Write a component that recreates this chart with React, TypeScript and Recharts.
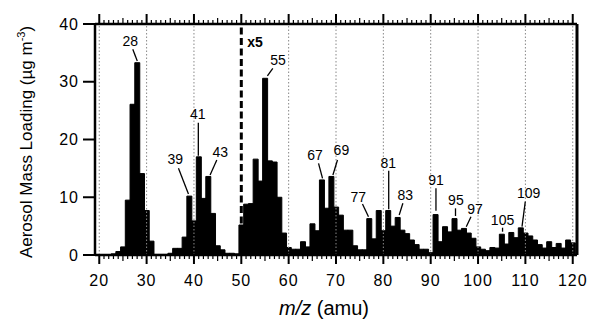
import React from 'react';
import { BarChart, Bar, XAxis, YAxis, ReferenceLine, LabelList } from 'recharts';

// m/z values (amu)
const massToCharge = [
  20, 21, 22, 23, 24, 25, 26, 27, 28, 29, 30, 31, 32, 33, 34, 35, 36, 37, 38, 39,
  40, 41, 42, 43, 44, 45, 46, 47, 48, 49, 50, 51, 52, 53, 54, 55, 56, 57, 58, 59,
  60, 61, 62, 63, 64, 65, 66, 67, 68, 69, 70, 71, 72, 73, 74, 75, 76, 77, 78, 79,
  80, 81, 82, 83, 84, 85, 86, 87, 88, 89, 90, 91, 92, 93, 94, 95, 96, 97, 98, 99,
  100, 101, 102, 103, 104, 105, 106, 107, 108, 109, 110, 111, 112, 113, 114, 115, 116, 117, 118, 119, 120,
];

// Aerosol mass loading (µg m-3); values above m/z 50 shown x5
const massLoading = [
  0.05, 0.05, 0.05, 0.2, 0.6, 1.4, 9.5, 26.1, 33.3, 14.1, 7.7, 2.4, 0.1, 0.1, 0.1, 0.3, 1.15, 1.15, 3.1, 10.2,
  5.9, 17.0, 9.8, 13.6, 7.2, 1.6, 0.9, 0.3, 0.3, 0.2, 5.2, 8.8, 8.9, 16.6, 12.8, 30.6, 16.3, 16.1, 10.0, 3.8,
  1.3, 1.0, 1.0, 2.3, 1.4, 5.4, 4.2, 13.0, 8.1, 13.6, 8.3, 6.9, 4.3, 4.3, 1.6, 0.9, 0.9, 6.3, 2.8, 7.7,
  4.2, 7.7, 5.0, 6.5, 4.3, 3.7, 2.6, 1.8, 1.0, 1.0, 0.4, 7.0, 2.3, 4.9, 4.0, 6.3, 4.3, 4.6, 3.8, 2.9,
  1.4, 1.0, 0.75, 1.3, 1.2, 3.6, 1.9, 3.9, 3.0, 4.7, 3.8, 3.3, 2.6, 1.8, 1.2, 2.3, 1.3, 2.0, 1.2, 2.6, 2.1,
];

const xTickLabels = [20, 30, 40, 50, 60, 70, 80, 90, 100, 110, 120];
const yTickLabels = [0, 10, 20, 30, 40];
const gridValues = [20, 30, 40, 60, 70, 80, 90, 100, 110, 120];
const scaleBreak = 50;
const labeledPeaks = [28, 39, 41, 43, 55, 67, 69, 77, 81, 83, 91, 95, 97, 105, 109];

const data = massToCharge.map((mz, i) => ({ mz, loading: massLoading[i] }));

const FONT = "'Liberation Sans', Arial, Helvetica, sans-serif";

const yDomain: [number, number] = [0, 40];
const xDomain: [number, number] = [19.1, 120.9];
const PLOT_H = 231; // px height of plot area
const pxToUnits = (px: number) => (px * (yDomain[1] - yDomain[0])) / PLOT_H;

// minor tick marks (every amu, longer every 5), majors drawn by the axes
const minorTicks = massToCharge.filter((v) => v % 10 !== 0);
const minorLen = (v: number) => pxToUnits(v % 5 === 0 ? 6 : 4);

// leader line / text offsets relative to the bar top centre (styling)
const peakOffsets: Record<number, { tx: number; ty: number; l: [number, number, number, number] }> = {
  28: { tx: -7, ty: -22, l: [-4.5, -13.4, 0, -1.7] },
  39: { tx: -14, ty: -37, l: [-10.9, -27.8, -0.9, -2.1] },
  41: { tx: -1, ty: -43, l: [-0.5, -34, -0.5, -1] },
  43: { tx: 12, ty: -24, l: [8.5, -16.5, 1.8, -1.5] },
  55: { tx: 13, ty: -18, l: [7.7, -10, 2.3, -2.3] },
  67: { tx: -7, ty: -25, l: [-3.4, -16.6, 0.6, -1.6] },
  69: { tx: 10, ty: -26, l: [6.1, -16.5, 1.5, -1.5] },
  77: { tx: -11, ty: -22, l: [-6.8, -14.6, -0.8, -1.9] },
  81: { tx: 0, ty: -48, l: [0.5, -39.8, 0.5, -1.2] },
  83: { tx: 7.5, ty: -22.5, l: [5.2, -14.2, 1.5, -2.5] },
  91: { tx: 0.4, ty: -34.6, l: [0.4, -26.3, 0.4, -3.9] },
  95: { tx: 1.4, ty: -18.6, l: [1, -10.3, 1, -2.6] },
  97: { tx: 11, ty: -19.4, l: [7, -11.7, 2.3, -1.7] },
  105: { tx: 0.7, ty: -14.2, l: [0.7, -6.5, 0.7, -2.5] },
  109: { tx: 7.8, ty: -34.6, l: [4.5, -26.2, 1.2, -1.2] },
};

const PeakLabel = (props: any) => {
  const vb = props.viewBox && props.viewBox.width !== undefined ? props.viewBox : props;
  const mz = props.value !== undefined ? Number(props.value) : massToCharge[props.index];
  if (!labeledPeaks.includes(mz)) return null;
  const o = peakOffsets[mz];
  if (!o) return null;
  const cx = vb.x + vb.width / 2;
  const top = vb.y;
  return (
    <g>
      <line x1={cx + o.l[0]} y1={top + o.l[1]} x2={cx + o.l[2]} y2={top + o.l[3]} stroke="#000" strokeWidth={1.3} />
      <text x={cx + o.tx} y={top + o.ty + 5} textAnchor="middle" fontSize={14} fontFamily={FONT} fill="#000">
        {mz}
      </text>
    </g>
  );
};

const BreakLabel = (props: any) => {
  const vb = props.viewBox;
  return (
    <text x={vb.x + 6} y={vb.y + 23} fontSize={14} fontWeight="bold" fontFamily={FONT} fill="#000">
      x5
    </text>
  );
};

const XTitle = (props: any) => {
  const vb = props.viewBox;
  return (
    <text x={vb.x + vb.width / 2 - 12} y={vb.y + 60} textAnchor="middle" fontSize={20} fontFamily={FONT} fill="#000">
      <tspan fontStyle="italic">m/z</tspan>
      <tspan> (amu)</tspan>
    </text>
  );
};

const YTitle = () => {
  const x = 32;
  const y = 142;
  return (
    <text x={x} y={y} textAnchor="middle" fontSize={17} fontFamily={FONT} fill="#000" transform={`rotate(-90, ${x}, ${y})`}>
      <tspan>Aerosol Mass Loading (µg m</tspan>
      <tspan fontSize={11} dy={-7}>-3</tspan>
      <tspan dy={7}>)</tspan>
    </text>
  );
};

const EmptyTick = () => <g />;

export default function App() {
  return (
    <div style={{ position: 'absolute', left: 0, top: 0, width: 592, height: 327, background: '#fff' }}>
      <BarChart
        width={592}
        height={327}
        data={data}
        margin={{ top: 10, right: 13, bottom: 0, left: 0 }}
        barCategoryGap={0}
        barGap={0}
      >
        <XAxis
          xAxisId="bottom"
          dataKey="mz"
          type="number"
          domain={xDomain}
          allowDataOverflow
          ticks={xTickLabels}
          interval={0}
          height={72}
          tickSize={9}
          tickMargin={11}
          tickLine={{ stroke: '#000', strokeWidth: 2 }}
          tick={{ fill: '#000', fontSize: 16, fontFamily: FONT, letterSpacing: 1 }}
          axisLine={{ stroke: '#000', strokeWidth: 2.5 }}
          label={<XTitle />}
        />
        <XAxis
          xAxisId="top"
          orientation="top"
          dataKey="mz"
          type="number"
          domain={xDomain}
          allowDataOverflow
          ticks={xTickLabels}
          interval={0}
          height={14}
          tickSize={10}
          tickLine={{ stroke: '#000', strokeWidth: 2 }}
          tick={<EmptyTick />}
          axisLine={{ stroke: '#000', strokeWidth: 2.5 }}
        />
        <YAxis
          yAxisId="left"
          type="number"
          domain={yDomain}
          ticks={yTickLabels}
          interval={0}
          width={95}
          tickSize={12}
          tickMargin={4}
          tickLine={{ stroke: '#000', strokeWidth: 2 }}
          axisLine={{ stroke: '#000', strokeWidth: 2.5 }}
          tick={{ fill: '#000', fontSize: 16, fontFamily: FONT, letterSpacing: 1 }}
          label={<YTitle />}
        />
        <YAxis
          yAxisId="right"
          orientation="right"
          type="number"
          domain={yDomain}
          width={2}
          tick={false}
          tickLine={false}
          axisLine={{ stroke: '#000', strokeWidth: 3 }}
        />
        {gridValues.map((g) => (
          <ReferenceLine
            key={`g${g}`}
            x={g}
            xAxisId="bottom"
            yAxisId="left"
            stroke="#888"
            strokeWidth={1}
            strokeDasharray="1.5 2"
          />
        ))}
        {minorTicks.map((v) => (
          <ReferenceLine
            key={`bm${v}`}
            xAxisId="bottom"
            yAxisId="left"
            ifOverflow="visible"
            segment={[
              { x: v, y: yDomain[0] },
              { x: v, y: yDomain[0] - minorLen(v) },
            ]}
            stroke="#000"
            strokeWidth={1.2}
          />
        ))}
        {minorTicks.map((v) => (
          <ReferenceLine
            key={`tm${v}`}
            xAxisId="bottom"
            yAxisId="left"
            ifOverflow="visible"
            segment={[
              { x: v, y: yDomain[1] },
              { x: v, y: yDomain[1] + minorLen(v) },
            ]}
            stroke="#000"
            strokeWidth={1.2}
          />
        ))}
        <Bar
          dataKey="loading"
          xAxisId="bottom"
          yAxisId="left"
          fill="#000"
          stroke="#000"
          strokeWidth={1}
          isAnimationActive={false}
        >
          <LabelList dataKey="mz" content={<PeakLabel />} />
        </Bar>
        <ReferenceLine
          x={scaleBreak}
          xAxisId="bottom"
          yAxisId="left"
          stroke="#000"
          strokeWidth={3}
          strokeDasharray="7 3.5"
          label={<BreakLabel />}
        />
      </BarChart>
    </div>
  );
}
